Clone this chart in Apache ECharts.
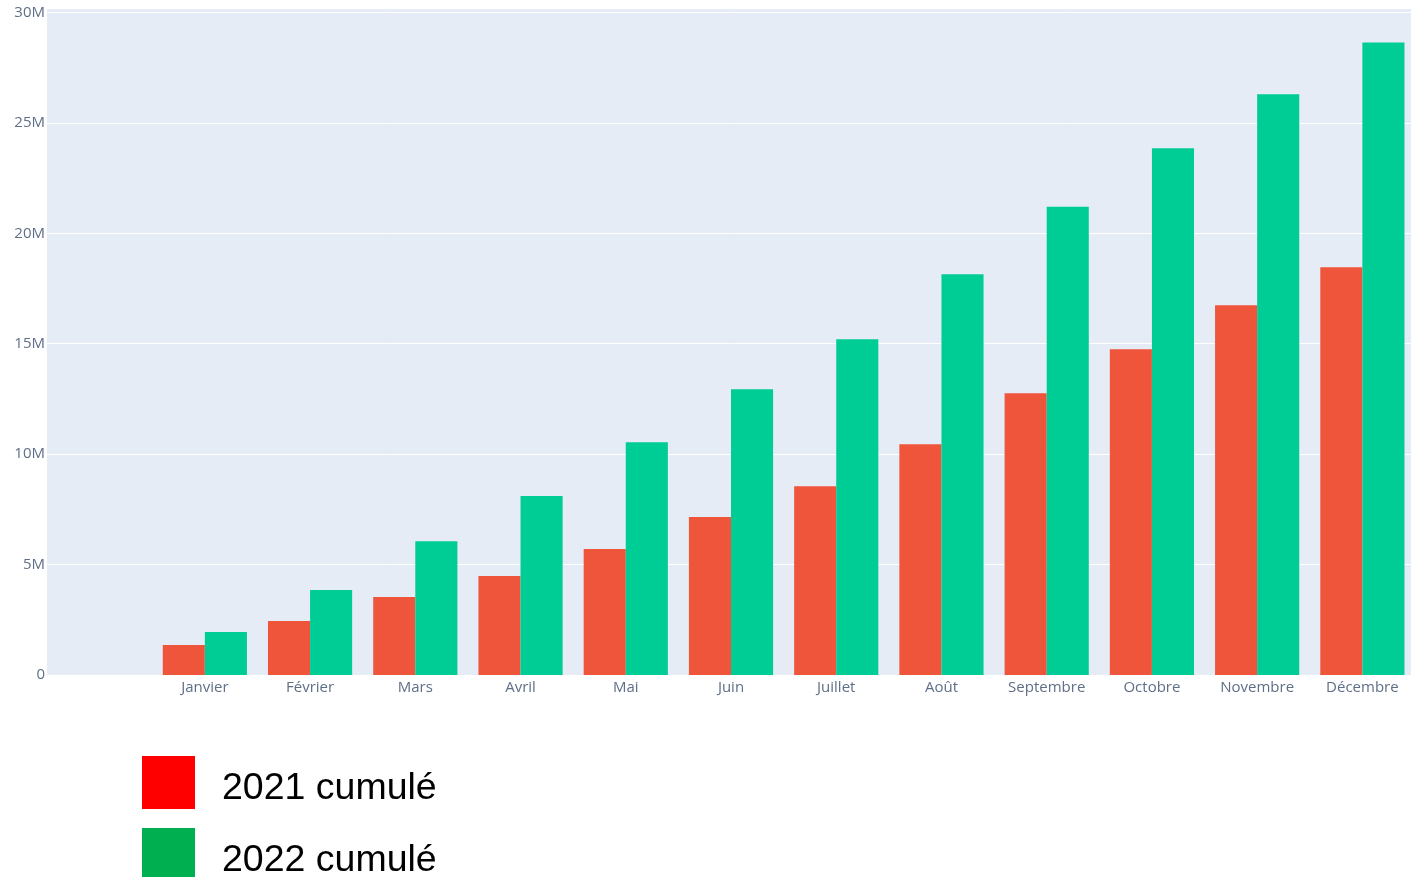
<!DOCTYPE html>
<html><head><meta charset="utf-8">
<script src="https://cdn.jsdelivr.net/npm/echarts@6/dist/echarts.min.js"></script>
<style>html,body{margin:0;padding:0;background:#fff}#c{width:1411px;height:877px}</style>
</head><body><div id="c"></div>
<script>
const categories = ['', 'Janvier', 'Février', 'Mars', 'Avril', 'Mai', 'Juin', 'Juillet', 'Août', 'Septembre', 'Octobre', 'Novembre', 'Décembre'];
const cumul2021 = [null, 1.36e6, 2.44e6, 3.53e6, 4.48e6, 5.70e6, 7.15e6, 8.55e6, 10.45e6, 12.76e6, 14.75e6, 16.74e6, 18.46e6];
const cumul2022 = [null, 1.95e6, 3.85e6, 6.06e6, 8.10e6, 10.54e6, 12.94e6, 15.20e6, 18.14e6, 21.20e6, 23.85e6, 26.29e6, 28.64e6];
const seriesNames = ['2021 cumulé', '2022 cumulé'];
const legendColors = ['#FF0000', '#00B050'];

const chart = echarts.init(document.getElementById('c'));
const labelColor = '#5f6f87';
const legendTops = [756, 828];
chart.setOption({
  animation: false,
  grid: {left: 47, width: 1368, top: 8, bottom: 202, show: true, backgroundColor: '#E5ECF6', borderWidth: 0, outerBoundsMode: 'none', containLabel: false},
  legend: seriesNames.map((n, i) => ({
    orient: 'vertical', left: 142, top: legendTops[i], itemWidth: 53, itemHeight: 53, padding: 0,
    icon: 'rect', selectedMode: false,
    formatter: '{a|{name}}',
    textStyle: {
      fontFamily: 'Liberation Sans, Arial', fontSize: 37.5, color: '#000', padding: [0, 0, 0, 22],
      rich: {a: {fontFamily: 'Liberation Sans, Arial', fontSize: 37.5, color: '#000', padding: [12, 0, 0, 0]}}
    },
    data: [{name: n, itemStyle: {color: legendColors[i]}}]
  })),
  xAxis: {
    type: 'category', data: categories,
    axisLine: {show: false}, axisTick: {show: false},
    axisLabel: {color: labelColor, fontSize: 15, fontFamily: 'Open Sans', margin: 5, interval: 0}
  },
  yAxis: {
    type: 'value', min: 0, max: 30.2e6, interval: 5e6,
    axisLine: {show: false}, axisTick: {show: false},
    splitLine: {lineStyle: {color: '#ffffff', width: 1}},
    axisLabel: {
      color: labelColor, fontSize: 15, fontFamily: 'Open Sans', margin: 2, showMaxLabel: false,
      formatter: v => v === 0 ? '0' : (v / 1e6) + 'M'
    }
  },
  series: [
    {name: seriesNames[0], type: 'bar', data: cumul2021, barGap: '0%', barCategoryGap: '20%', itemStyle: {color: '#EF553B'}},
    {name: seriesNames[1], type: 'bar', data: cumul2022, barGap: '0%', barCategoryGap: '20%', itemStyle: {color: '#00CC96'}}
  ]
});
</script></body></html>
